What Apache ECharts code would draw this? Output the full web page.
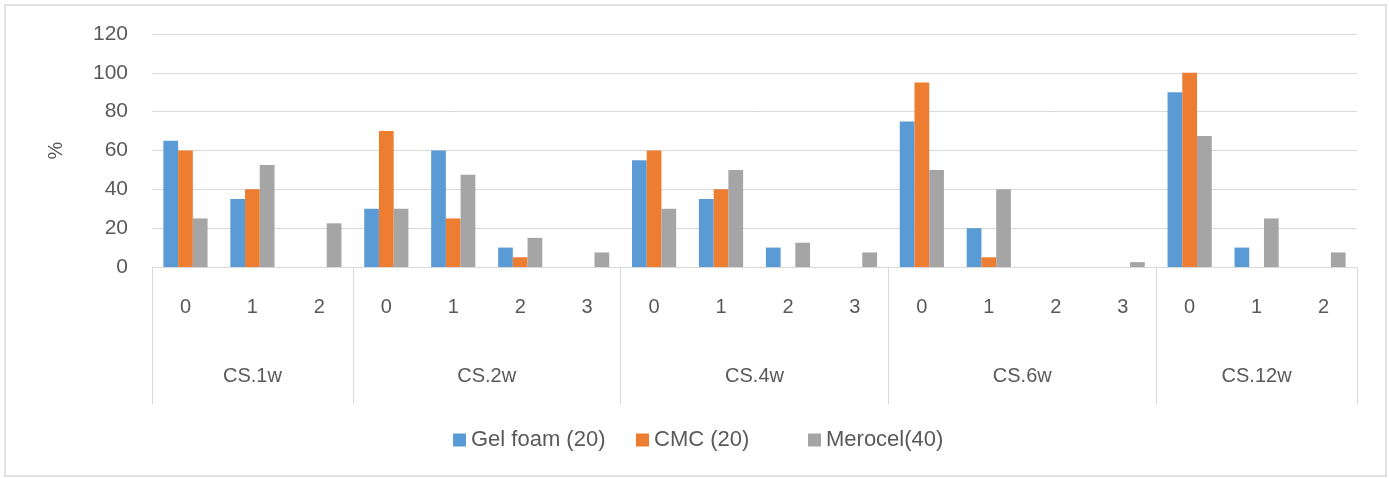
<!DOCTYPE html>
<html>
<head>
<meta charset="utf-8">
<script src="https://cdn.jsdelivr.net/npm/echarts@6/dist/echarts.min.js"></script>
<style>
  html, body { margin: 0; padding: 0; background: #ffffff; }
  #chart { width: 1389px; height: 478px; }
</style>
</head>
<body>
<div id="chart"></div>
<script>
// Follow-up groups and the score levels recorded inside each one
const groupNames = ['CS.1w', 'CS.2w', 'CS.4w', 'CS.6w', 'CS.12w'];
const groupLevels = [
  ['0', '1', '2'],
  ['0', '1', '2', '3'],
  ['0', '1', '2', '3'],
  ['0', '1', '2', '3'],
  ['0', '1', '2']
];

// Share of patients (%) per level, in the same order as the levels above
const seriesNames = ['Gel foam (20)', 'CMC (20)', 'Merocel(40)'];
const gelFoam = [65, 35, 0,   30, 60, 10, 0,    55, 35, 10, 0,     75, 20, 0, 0,    90, 10, 0];
const cmc     = [60, 40, 0,   70, 25, 5, 0,     60, 40, 0, 0,      95, 5, 0, 0,     100, 0, 0];
const merocel = [25, 52.5, 22.5, 30, 47.5, 15, 7.5, 30, 50, 12.5, 7.5, 50, 40, 0, 2.5, 67.5, 25, 7.5];

// Value axis ticks
const yMin = 0, yMax = 120, yStep = 20;

const colors = ['#5B9BD5', '#ED7D31', '#A5A5A5'];
const textColor = '#595959';
const lineColor = '#D9D9D9';
const fontFamily = '"Liberation Sans", Arial, sans-serif';

// Flattened inner categories (unique ids, label after the bar)
const innerCats = [];
const groupStarts = [];
groupLevels.forEach(function (levels, g) {
  groupStarts.push(innerCats.length);
  levels.forEach(function (lv) { innerCats.push(groupNames[g] + '|' + lv); });
});

// Half-step points along the axis, used to centre each group name
const halfPoints = [];
const halfLabels = {};
for (let i = 0; i <= innerCats.length * 2; i++) halfPoints.push('h' + i);
groupLevels.forEach(function (levels, g) {
  halfLabels['h' + (groupStarts[g] * 2 + levels.length)] = groupNames[g];
});

const chart = echarts.init(document.getElementById('chart'), null, { renderer: 'canvas' });

const seriesData = [gelFoam, cmc, merocel];

chart.setOption({
  animation: false,
  backgroundColor: '#ffffff',
  textStyle: { fontFamily: fontFamily },
  graphic: [{
    type: 'rect',
    shape: { x: 5, y: 5, width: 1381, height: 471 },
    style: { fill: 'none', stroke: lineColor, lineWidth: 1.5 },
    silent: true
  }],
  grid: { left: 152, right: 32, top: 34, bottom: 211, containLabel: false },
  legend: seriesNames.map(function (name, i) {
    return {
      data: [name],
      left: [453, 636, 808][i],
      top: 429,
      padding: 0,
      itemWidth: 13,
      itemHeight: 13,
      icon: 'rect',
      selectedMode: false,
      textStyle: { color: textColor, fontSize: 22, fontFamily: fontFamily }
    };
  }),
  xAxis: [{
    type: 'category',
    position: 'bottom',
    data: innerCats,
    axisLine: { show: true, lineStyle: { color: lineColor, width: 1 } },
    axisTick: {
      show: true,
      length: 137,
      interval: function (index) { return groupStarts.indexOf(index) >= 0; },
      lineStyle: { color: lineColor, width: 1 }
    },
    axisLabel: {
      interval: 0,
      margin: 30,
      color: textColor,
      fontSize: 20,
      fontFamily: fontFamily,
      formatter: function (v) { return v.split('|')[1]; }
    },
    splitLine: { show: false }
  }, {
    type: 'category',
    position: 'bottom',
    boundaryGap: false,
    data: halfPoints,
    axisLine: { show: false },
    axisTick: { show: false },
    axisLabel: {
      interval: 0,
      margin: 99,
      color: textColor,
      fontSize: 20,
      fontFamily: fontFamily,
      formatter: function (v) { return halfLabels[v] || ''; }
    },
    splitLine: { show: false }
  }],
  yAxis: {
    type: 'value',
    min: yMin,
    max: yMax,
    interval: yStep,
    name: '%',
    nameLocation: 'middle',
    nameGap: 86,
    nameTextStyle: { color: textColor, fontSize: 20, fontFamily: fontFamily },
    axisLine: { show: false },
    axisTick: { show: false },
    axisLabel: { margin: 24, color: textColor, fontSize: 21, fontFamily: fontFamily },
    splitLine: { show: true, lineStyle: { color: lineColor, width: 1 } }
  },
  series: seriesNames.map(function (name, i) {
    return {
      name: name,
      type: 'bar',
      xAxisIndex: 0,
      data: seriesData[i],
      barGap: '0%',
      barCategoryGap: '34%',
      itemStyle: { color: colors[i] },
      emphasis: { disabled: true }
    };
  })
});
</script>
</body>
</html>
